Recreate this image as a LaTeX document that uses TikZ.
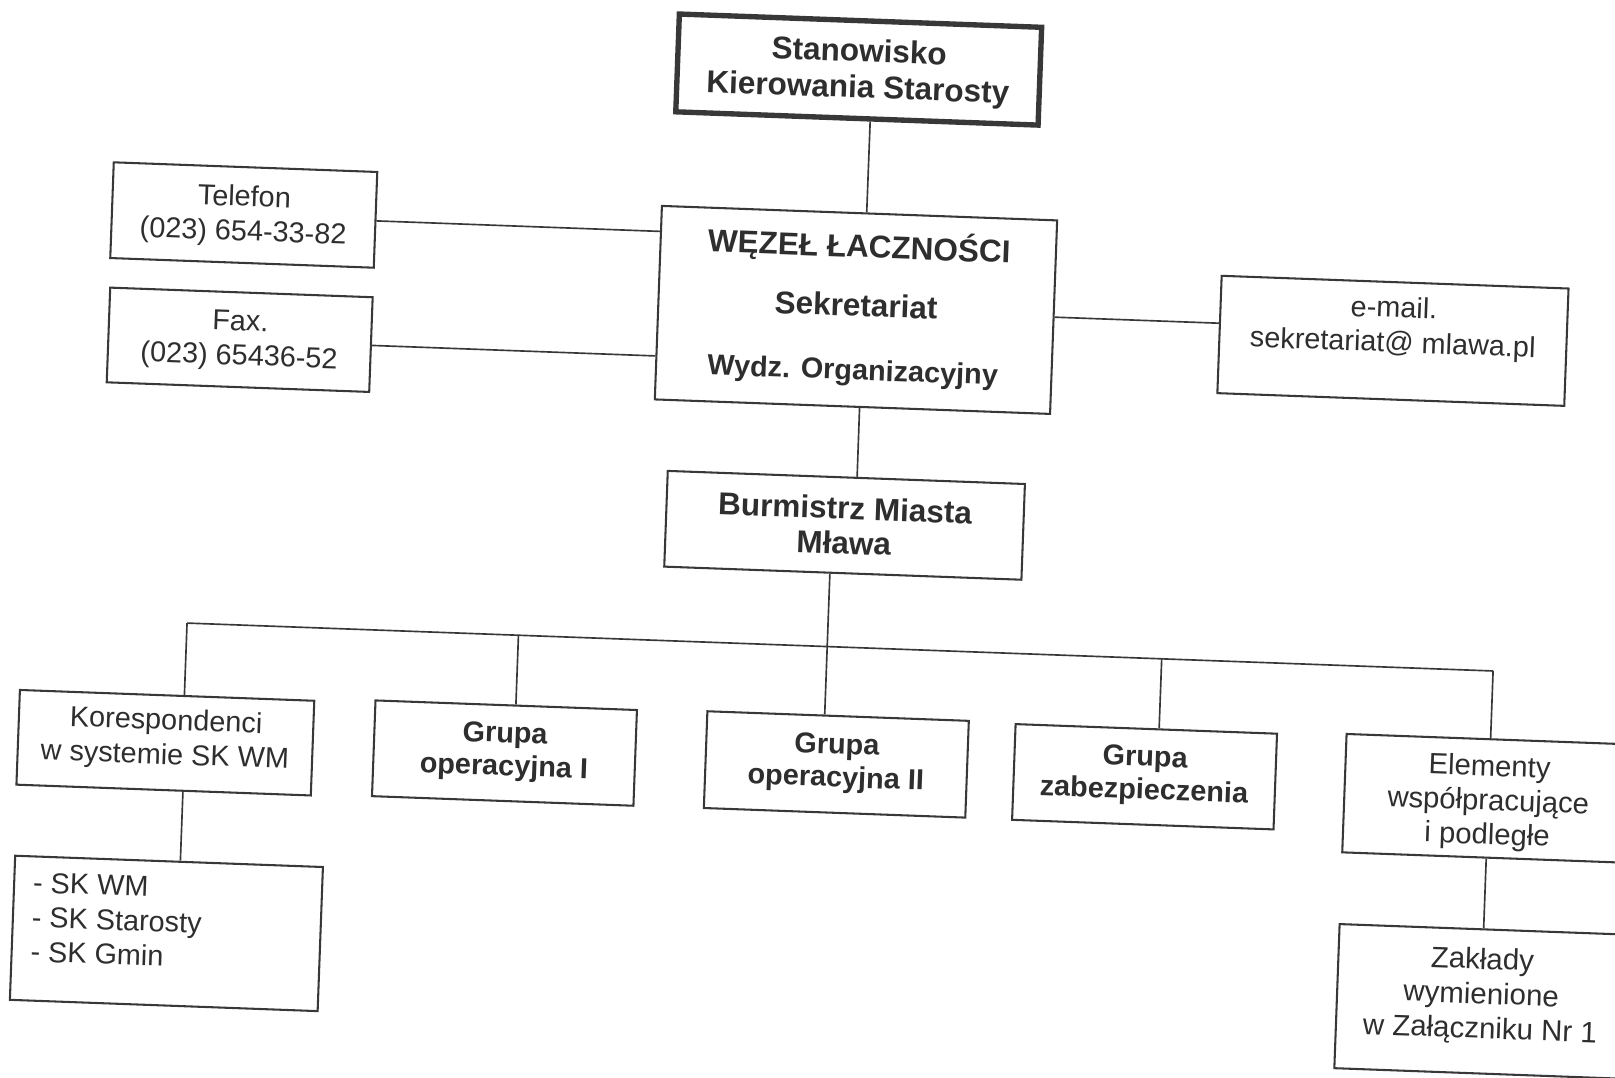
\documentclass[tikz,border=0pt]{standalone}
\usepackage{fontspec}
\setmainfont{Liberation Sans}
\usetikzlibrary{calc}
\definecolor{ink}{gray}{0.18}
\definecolor{edge}{gray}{0.22}
\tikzset{
  box/.style={draw=edge, line width=1pt, rectangle, inner sep=0pt, fill=white},
  conn/.style={draw=edge, line width=0.8pt},
  txt/.style={font=\fontsize{14}{16.8}\selectfont, align=center, inner sep=0pt, text=ink},
  btxt/.style={font=\fontsize{15.3}{17.6}\selectfont\bfseries, align=center, inner sep=0pt, text=ink},
  gtxt/.style={font=\fontsize{14}{16}\selectfont\bfseries, align=center, inner sep=0pt, text=ink},
}
\begin{document}
\begin{tikzpicture}[x=0.5pt,y=-0.5pt]
\useasboundingbox (0,0) rectangle (1568,1046);
\clip (0,0) rectangle (1568,1046);
\begin{scope}[rotate around={-2.1:(784,523)}, transform shape]
% boxes
\node[box, minimum width=176pt, minimum height=47.5pt, line width=2.6pt] (top) at (817,66) {};
\node[box, minimum width=128pt, minimum height=46.5pt] (tel) at (225.5,229) {};
\node[box, minimum width=127.5pt, minimum height=46pt] (fax) at (226,350.2) {};
\node[box, minimum width=192pt, minimum height=94pt] (wez) at (822.9,299.3) {};
\node[box, minimum width=168.5pt, minimum height=57pt] (email) at (1345,310.2) {};
\node[box, minimum width=173.5pt, minimum height=46.5pt] (bm) at (819.5,508.7) {};
\node[box, minimum width=143pt, minimum height=46pt] (kor) at (168.2,743.8) {};
\node[box, minimum width=149.5pt, minimum height=70pt] (sk) at (176,928.8) {};
\node[box, minimum width=127pt, minimum height=46.5pt] (g1) at (497.6,741.8) {};
\node[box, minimum width=127pt, minimum height=47pt] (g2) at (820,741) {};
\node[box, minimum width=127pt, minimum height=46.5pt] (g3) at (1119.5,742) {};
\node[box, minimum width=140pt, minimum height=57.5pt] (el) at (1454,750.8) {};
\node[box, minimum width=140pt, minimum height=70pt] (zak) at (1454,948) {};
% texts
\node[btxt] (toptxt) at ($(top.center)+(0,2)$) {Stanowisko\\Kierowania Starosty};
\node[txt] (teltxt) at ($(tel.center)+(0,1)$) {Telefon\\(023) 654-33-82};
\node[txt] (faxtxt) at ($(fax.center)+(0,1)$) {Fax.\\(023) 65436-52};
\node[btxt, anchor=base] (w1) at ($(wez.center)+(1,-51)$) {WĘZEŁ ŁACZNOŚCI};
\node[btxt, anchor=base] (w2) at ($(wez.center)+(0,6)$) {Sekretariat};
\node[gtxt, anchor=base] (w3) at ($(wez.center)+(-1,68)$) {Wydz. Organizacyjny};
\node[txt] (emailtxt) at ($(email.center)+(0,-13)$) {e-mail.\\sekretariat@ mlawa.pl};
\node[btxt, font=\fontsize{15.3}{16.8}\selectfont\bfseries] (bmtxt) at ($(bm.center)+(0,0)$) {Burmistrz Miasta\\Mława};
\node[txt] (kortxt) at ($(kor.center)+(0,-3)$) {Korespondenci\\w systemie SK WM};
\node[txt, align=left, anchor=west] (sktxt) at ($(sk.west)+(19,-11)$) {- SK WM\\- SK Starosty\\- SK Gmin};
\node[gtxt] (g1txt) at ($(g1.center)+(0,-1)$) {Grupa\\operacyjna I};
\node[gtxt] (g2txt) at ($(g2.center)+(0,-1)$) {Grupa\\operacyjna II};
\node[gtxt] (g3txt) at ($(g3.center)+(0,-1)$) {Grupa\\zabezpieczenia};
\node[txt, font=\fontsize{14.2}{16.6}\selectfont] (eltxt) at ($(el.center)+(0,4)$) {Elementy\\współpracujące\\i podległe};
\node[txt, font=\fontsize{14.3}{16.8}\selectfont] (zaktxt) at ($(zak.center)+(0,-5)$) {Zakłady\\wymienione\\w Załączniku Nr 1};
% bus coordinates
\coordinate (busL) at (185,627);
\coordinate (busR) at (1454,627);
\coordinate (b1) at (507,627);
\coordinate (b3) at (1132,627);
% connectors
\draw[conn] ([xshift=6.5pt]top.south) -- ([xshift=3.5pt]wez.north);
\draw[conn] ([yshift=-0.5pt]tel.east) -- ([yshift=34.6pt]wez.west);
\draw[conn] ([yshift=-0.4pt]fax.east) -- ([yshift=-25.9pt]wez.west);
\draw[conn] (wez.east) -- ([yshift=5.45pt]email.west);
\draw[conn] ([xshift=3.5pt]wez.south) -- ([xshift=5.25pt]bm.north);
\draw[conn] ([xshift=-6.25pt]bm.south) -- ([xshift=-6.5pt]g2.north);
\draw[conn] (busL) -- (busR);
\draw[conn] (busL) -- ([xshift=8.4pt]kor.north);
\draw[conn] ([xshift=9.4pt]kor.south) -- ([xshift=5.5pt]sk.north);
\draw[conn] (b1) -- ([xshift=4.7pt]g1.north);
\draw[conn] (b3) -- ([xshift=6.25pt]g3.north);
\draw[conn] (busR) -- (el.north);
\draw[conn] (el.south) -- (zak.north);
\end{scope}
\end{tikzpicture}
\end{document}
